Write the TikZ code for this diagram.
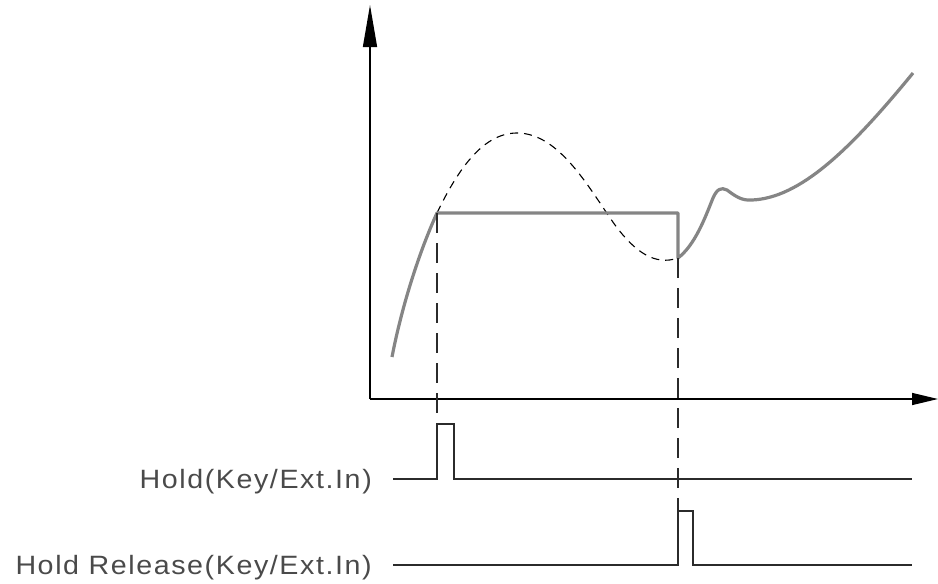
\documentclass[tikz,border=0pt]{standalone}
\usepackage{fontspec}
\setmainfont[FakeStretch=1.08,LetterSpace=6]{Liberation Sans}
\usetikzlibrary{arrows.meta}
\definecolor{Signal}{HTML}{858585}
\definecolor{Ink}{HTML}{2B2B2B}
\definecolor{TextInk}{HTML}{4A4A4A}
\tikzset{axis/.style={line width=1.4pt,draw=black},signal/.style={line width=3.2pt,draw=Signal,line join=round},trend/.style={line width=1.1pt,draw=black,dash pattern=on 8pt off 6pt},guide/.style={line width=1.2pt,draw=Ink,dash pattern=on 20pt off 10pt},pulse/.style={line width=1.3pt,draw=Ink},lbl/.style={anchor=base east,inner sep=0pt,font=\fontsize{26.5}{30}\selectfont,text=TextInk}}

\begin{document}
\begin{tikzpicture}[x=1pt,y=-1pt]
      \useasboundingbox (0,0) rectangle (938,584);
      \coordinate (O) at (370,399);
      \coordinate (ytip) at (370,5);
      \coordinate (xtip) at (938,399);
      \coordinate (hA) at (437,213);
      \coordinate (hB) at (678,213);
      \coordinate (rA) at (678,258);
      % axes
      \draw[axis,-{Triangle[length=42pt,width=14pt]}](O)--(ytip);
      \draw[axis,-{Triangle[length=26pt,width=12pt]}](O)--(xtip);
      % measured value, dashed = input without hold
      \draw[trend](hA) .. controls (460,165) and (485,133) .. (517,133) .. controls (560,133) and (590,190) .. (615,225) .. controls (635,252) and (655,266) .. (rA);
      \draw[signal](392,357) .. controls (402,305) and (420,250) .. (hA)--(hB)--(rA) .. controls (695,245) and (705,218) .. (713,198) .. controls (717,189) and (721,187) .. (727,190) .. controls (735,196) and (742,201) .. (752,200) .. controls (800,198) and (850,150) .. (913,73);
      % hold / release inputs
      \node[lbl](lblHold) at (372,488.5){Hold(Key/Ext.In)};
      \node[lbl](lblRelease) at (372,574.5){Hold\ Release(Key/Ext.In)};
      \coordinate (hP) at (437,479);
      \coordinate (rP) at (678,565);
      \draw[pulse](393,479)--(hP)--(437,424)--(454,424)--(454,479)--(912,479);
      \draw[pulse](393,565)--(rP)--(678,511)--(693,511)--(693,565)--(912,565);
      \draw[guide](hA)--(hP);
      \draw[guide](rA)--(rP);
    \end{tikzpicture}
\end{document}
